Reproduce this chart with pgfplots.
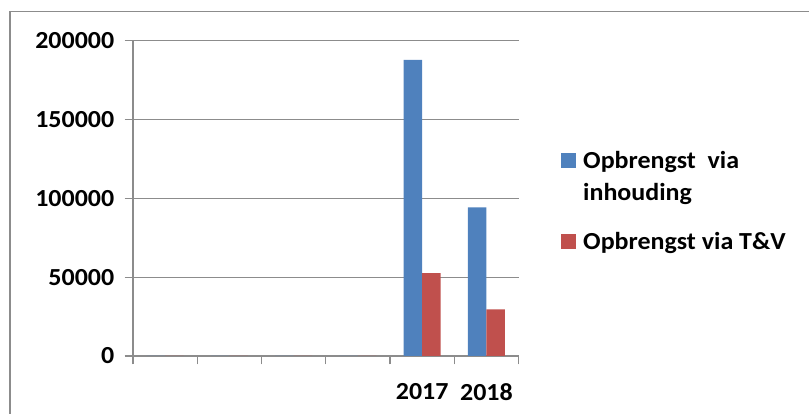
\documentclass[border=0pt]{standalone}
\usepackage{pgfplots}
\pgfplotsset{compat=1.18}
\usepackage{fontspec}
\setmainfont{Carlito}[FakeStretch=1.06]
\definecolor{barblue}{HTML}{4F81BD}
\definecolor{barred}{HTML}{C0504D}
\definecolor{linegray}{HTML}{8C8C8C}
\newcommand\lab{\fontsize{24.5}{32.5}\selectfont\bfseries}
\newcommand\twoline[2]{\begin{tabular}[t]{@{}l@{}}#1\\#2\end{tabular}}
\begin{document}
\begin{tikzpicture}
  \useasboundingbox (0pt,0pt) rectangle (809pt,414pt);
  \draw[linegray, line width=1.5pt] (10pt,0pt) -- (10pt,402.3pt) -- (809pt,402.3pt);
  \begin{axis}[
    at={(133pt,58pt)}, anchor=south west,
    scale only axis, width=385.6pt, height=315.3pt,
    ybar=0pt, bar width=18.5pt,
    xmin=0.5, xmax=6.5, ymin=0, ymax=200000,
    axis lines*=left,
    axis line style={linegray, line width=1.3pt},
    tick align=outside, major tick length=8.5pt,
    tick style={linegray, line width=1.3pt},
    ymajorgrids, grid style={linegray, line width=1.3pt},
    ytick={0,50000,100000,150000,200000},
    scaled y ticks=false,
    /pgf/number format/assume math mode=true,
    yticklabel style={/pgf/number format/fixed, /pgf/number format/1000 sep={}, inner sep=0pt, xshift=-10pt},
    xtick={0.5,1.5,2.5,3.5,4.5,5.5,6.5},
    xticklabels={},
    extra x ticks={5,6},
    extra x tick labels={2017,2018},
    extra x tick style={major tick length=0pt, xticklabel style={inner sep=0pt, yshift=-27pt}},
    tick label style={font=\lab},
    legend cell align=left,
    legend style={at={(axis description cs:1.110,0.669)}, anchor=north west,
      draw=none, fill=none, inner sep=0pt, font=\lab, row sep=22pt, column sep=7pt,
      nodes={inner sep=0pt, text depth=}, cells={anchor=base west}},
    legend image code/.code={\fill[#1] (0pt,0pt) rectangle (15pt,15pt);},
  ]
    \addplot[fill=barblue, draw=none] coordinates {(1,0) (2,0) (3,0) (4,0) (5,187900) (6,94300)};
    \addlegendentry{\twoline{Opbrengst\ \ via}{inhouding}}
    \addplot[fill=barred, draw=none] coordinates {(1,0) (2,0) (3,0) (4,0) (5,52500) (6,29600)};
    \addlegendentry{Opbrengst via T\&V}
  \end{axis}
\end{tikzpicture}
\end{document}
